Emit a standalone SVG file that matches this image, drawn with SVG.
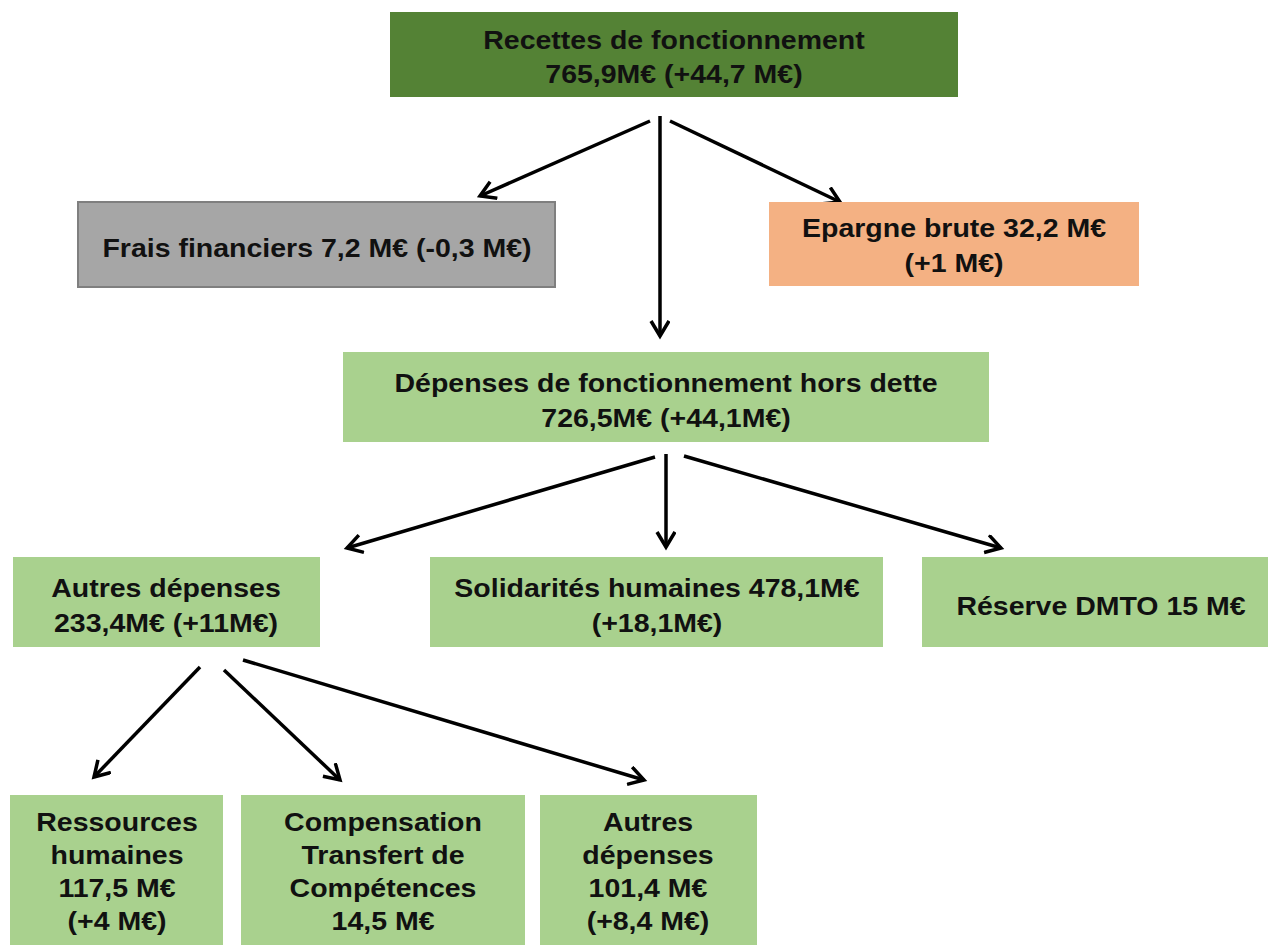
<svg xmlns="http://www.w3.org/2000/svg" width="1268" height="945" viewBox="0 0 1268 945">
<style>
.t{font-family:"Liberation Sans",Arial,sans-serif;font-weight:bold;font-size:25px;fill:#111;text-anchor:middle}
.dg{fill:#548235}
.lg{fill:#a9d18e}
.gr{fill:#a6a6a6;stroke:#7f7f7f;stroke-width:2}
.or{fill:#f4b183}
.c{stroke:#000;stroke-width:3.5;fill:none;marker-end:url(#ah)}
</style>
<defs>
<marker id="ah" markerUnits="userSpaceOnUse" markerWidth="24" markerHeight="24" refX="16" refY="10" orient="auto">
<path d="M1,1 L16,10 L1,19" fill="none" stroke="#000" stroke-width="3.5"/>
</marker>
</defs>
<rect width="1268" height="945" fill="#fff"/>
<g id="connectors">
<line class="c" x1="660" y1="116" x2="660" y2="336"/>
<line class="c" x1="650" y1="121" x2="480" y2="196"/>
<line class="c" x1="670" y1="121" x2="840" y2="202"/>
<line class="c" x1="666" y1="454" x2="666" y2="547"/>
<line class="c" x1="655" y1="457" x2="347" y2="548"/>
<line class="c" x1="684" y1="456" x2="1001" y2="548"/>
<line class="c" x1="200" y1="667" x2="94" y2="777"/>
<line class="c" x1="224" y1="670" x2="340" y2="780"/>
<line class="c" x1="243" y1="660" x2="644" y2="780"/>
</g>
<g id="recettes">
<rect class="dg" x="390" y="12" width="568" height="85"/>
<g transform="translate(674,0) scale(1.14,1)"><text class="t" x="0" y="49">Recettes de fonctionnement</text><text class="t" x="0" y="83">765,9M€ (+44,7 M€)</text></g>
</g>
<g id="frais">
<rect class="gr" x="78" y="202" width="477" height="85"/>
<g transform="translate(317,0) scale(1.14,1)"><text class="t" x="0" y="257">Frais financiers 7,2 M€ (-0,3 M€)</text></g>
</g>
<g id="epargne">
<rect class="or" x="769" y="202" width="370" height="84"/>
<g transform="translate(954,0) scale(1.14,1)"><text class="t" x="0" y="237">Epargne brute 32,2 M€</text><text class="t" x="0" y="272">(+1 M€)</text></g>
</g>
<g id="depenses">
<rect class="lg" x="343" y="352" width="646" height="90"/>
<g transform="translate(666,0) scale(1.14,1)"><text class="t" x="0" y="392">Dépenses de fonctionnement hors dette</text><text class="t" x="0" y="427">726,5M€ (+44,1M€)</text></g>
</g>
<g id="autres">
<rect class="lg" x="13" y="557" width="307" height="90"/>
<g transform="translate(166,0) scale(1.14,1)"><text class="t" x="0" y="597">Autres dépenses</text><text class="t" x="0" y="632">233,4M€ (+11M€)</text></g>
</g>
<g id="solidarites">
<rect class="lg" x="430" y="557" width="453" height="90"/>
<g transform="translate(657,0) scale(1.14,1)"><text class="t" x="0" y="597">Solidarités humaines 478,1M€</text><text class="t" x="0" y="632">(+18,1M€)</text></g>
</g>
<g id="reserve">
<rect class="lg" x="922" y="557" width="346" height="90"/>
<g transform="translate(1101,0) scale(1.14,1)"><text class="t" x="0" y="615">Réserve DMTO 15 M€</text></g>
</g>
<g id="rh">
<rect class="lg" x="10" y="795" width="213" height="150"/>
<g transform="translate(117,0) scale(1.14,1)"><text class="t" x="0" y="831">Ressources</text><text class="t" x="0" y="864">humaines</text><text class="t" x="0" y="897">117,5 M€</text><text class="t" x="0" y="930">(+4 M€)</text></g>
</g>
<g id="compensation">
<rect class="lg" x="241" y="795" width="284" height="150"/>
<g transform="translate(383,0) scale(1.14,1)"><text class="t" x="0" y="831">Compensation</text><text class="t" x="0" y="864">Transfert de</text><text class="t" x="0" y="897">Compétences</text><text class="t" x="0" y="930">14,5 M€</text></g>
</g>
<g id="autres2">
<rect class="lg" x="540" y="795" width="217" height="150"/>
<g transform="translate(648,0) scale(1.14,1)"><text class="t" x="0" y="831">Autres</text><text class="t" x="0" y="864">dépenses</text><text class="t" x="0" y="897">101,4 M€</text><text class="t" x="0" y="930">(+8,4 M€)</text></g>
</g>
</svg>
